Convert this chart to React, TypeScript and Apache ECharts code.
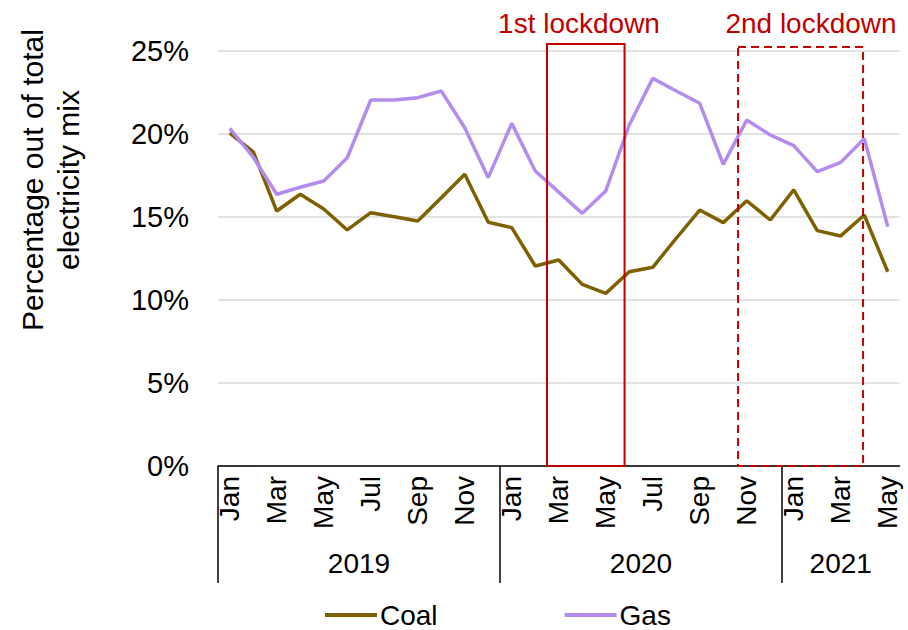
import React, { useEffect, useRef } from "react";
import * as echarts from "echarts";

const months = ["Jan", "Feb", "Mar", "Apr", "May", "Jun", "Jul", "Aug", "Sep", "Oct", "Nov", "Dec"];
const years = ["2019", "2020", "2021"];
const monthsPerYear = [12, 12, 5];

const coal = [
  20.05, 18.93, 15.36, 16.37, 15.48, 14.22, 15.26, 15.02, 14.76, 16.16, 17.57, 14.68,
  14.36, 12.05, 12.41, 10.94, 10.4, 11.7, 11.97, 13.72, 15.42, 14.66, 15.98, 14.82,
  16.63, 14.18, 13.86, 15.12, 11.7,
];
const gas = [
  20.34, 18.6, 16.37, 16.79, 17.17, 18.57, 22.05, 22.05, 22.19, 22.59, 20.38, 17.37,
  20.64, 17.77, 16.5, 15.22, 16.57, 20.54, 23.35, 22.59, 21.85, 18.17, 20.84, 19.94,
  19.3, 17.73, 18.29, 19.73, 14.42,
];

const categories: string[] = [];
years.forEach((y, yi) => {
  for (let m = 0; m < monthsPerYear[yi]; m++) categories.push(months[m] + " " + y);
});

const FONT = '"Liberation Sans", Arial, sans-serif';
const RED = "#c00000";
const COAL_COLOR = "#7f6000";
const GAS_COLOR = "#b48cf0";

export default function App() {
  const ref = useRef<HTMLDivElement>(null);
  useEffect(() => {
    document.body.style.margin = "0";
    const chart = echarts.init(ref.current!, null, { renderer: "svg" });
    const option: any = {
      animation: false,
      textStyle: { fontFamily: FONT, color: "#000" },
      grid: { left: 218, right: 8.5, top: 51, bottom: 164 },
      xAxis: {
        type: "category",
        data: categories,
        boundaryGap: true,
        axisLine: { lineStyle: { color: "#000", width: 1.5 } },
        axisTick: { show: false },
        axisLabel: {
          interval: 1,
          rotate: 90,
          margin: 10,
          fontSize: 28,
          color: "#000",
          fontFamily: FONT,
          formatter: (v: string) => v.split(" ")[0],
        },
        splitLine: { show: false },
      },
      yAxis: {
        type: "value",
        min: 0,
        max: 25,
        interval: 5,
        axisLine: { show: false },
        axisTick: { show: false },
        splitLine: { lineStyle: { color: "#d9d9d9", width: 1.5 } },
        axisLabel: { formatter: "{value}%", fontSize: 29, color: "#000", margin: 29, fontFamily: FONT },
      },
      legend: {
        left: 325,
        top: 601,
        padding: 0,
        itemWidth: 52,
        itemHeight: 4,
        itemGap: 127,
        icon: "rect",
        textStyle: { fontSize: 28, color: "#000", fontFamily: FONT, padding: [0, 0, 0, -2] },
        data: ["Coal", "Gas"],
      },
      series: [
        {
          name: "Coal",
          type: "line",
          data: coal,
          symbol: "none",
          lineStyle: { width: 3.5, color: COAL_COLOR },
          itemStyle: { color: COAL_COLOR },
        },
        {
          name: "Gas",
          type: "line",
          data: gas,
          symbol: "none",
          lineStyle: { width: 3.5, color: GAS_COLOR },
          itemStyle: { color: GAS_COLOR },
        },
      ],
    };
    chart.setOption(option);

    const c0 = chart.convertToPixel({ xAxisIndex: 0 }, 0) as number;
    const c1 = chart.convertToPixel({ xAxisIndex: 0 }, 1) as number;
    const bw = c1 - c0;
    const bx = (i: number) => c0 - bw / 2 + i * bw;
    const y0 = chart.convertToPixel({ yAxisIndex: 0 }, 0) as number;
    const yTop = chart.convertToPixel({ yAxisIndex: 0 }, 25) as number;

    const graphics: any[] = [];
    graphics.push({
      type: "text",
      x: 50,
      y: 180,
      rotation: Math.PI / 2,
      style: {
        text: "Percentage out of total\nelectricity mix",
        fontSize: 30,
        fontFamily: FONT,
        fill: "#000",
        align: "center",
        verticalAlign: "middle",
        lineHeight: 36,
      },
    });
    let start = 0;
    const bounds = [0];
    monthsPerYear.forEach((n) => {
      start += n;
      bounds.push(start);
    });
    [0, 12, 24].forEach((i) => {
      graphics.push({
        type: "line",
        shape: { x1: bx(i), y1: y0, x2: bx(i), y2: y0 + 117 },
        style: { stroke: "#000", lineWidth: 1.5 },
      });
    });
    years.forEach((y, yi) => {
      graphics.push({
        type: "text",
        x: (bx(bounds[yi]) + bx(bounds[yi + 1])) / 2,
        y: y0 + 97,
        style: { text: y, fontSize: 28, fontFamily: FONT, fill: "#000", align: "center", verticalAlign: "middle" },
      });
    });
    // lockdown boxes
    graphics.push({
      type: "rect",
      shape: { x: bx(14), y: yTop - 7, width: bx(17.3) - bx(14), height: y0 - (yTop - 7) },
      style: { fill: "none", stroke: RED, lineWidth: 2 },
      z: 10,
    });
    graphics.push({
      type: "rect",
      shape: { x: bx(22.13), y: yTop - 4, width: bx(27.45) - bx(22.13), height: y0 - (yTop - 4) },
      style: { fill: "none", stroke: RED, lineWidth: 2, lineDash: [8, 5] },
      z: 10,
    });
    graphics.push({
      type: "text",
      x: 579,
      y: 23,
      style: { text: "1st lockdown", fontSize: 28, fontFamily: FONT, fill: RED, align: "center", verticalAlign: "middle" },
    });
    graphics.push({
      type: "text",
      x: 811,
      y: 23,
      style: { text: "2nd lockdown", fontSize: 28, fontFamily: FONT, fill: RED, align: "center", verticalAlign: "middle" },
    });
    chart.setOption({ graphic: graphics });

    return () => chart.dispose();
  }, []);
  return <div ref={ref} style={{ width: 908, height: 630 }} />;
}
